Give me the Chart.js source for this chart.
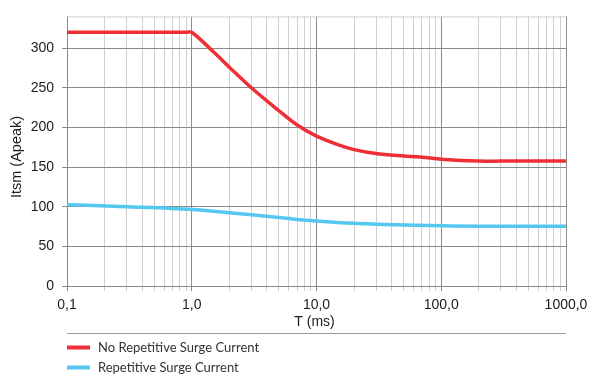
<!DOCTYPE html>
<html>
<head>
<meta charset="utf-8">
<script src="https://cdn.jsdelivr.net/npm/chart.js@4.4.1/dist/chart.umd.min.js"></script>
<style>
  html, body { margin: 0; padding: 0; background: #ffffff; }
  #wrap { width: 595px; height: 378px; position: relative; }
</style>
</head>
<body>
<div id="wrap"><canvas id="c" width="595" height="378"></canvas></div>
<script>
// ---- data ----
const seriesNames = ['No Repetitive Surge Current', 'Repetitive Surge Current'];
const noRepT     = [0.1, 0.9, 1.0, 1.5, 2, 3, 5, 7, 10, 15, 20, 30, 50, 70, 100, 200, 300, 1000];
const noRepItsm  = [320, 320, 320, 295, 276, 250, 221, 203, 189, 178, 172, 167, 164, 162.5, 160, 157.5, 157.5, 157.5];
const repT       = [0.1, 0.3, 1, 2, 3, 5, 7, 10, 20, 30, 50, 100, 200, 500, 1000];
const repItsm    = [102.5, 100, 96.5, 92.5, 90, 86.5, 84, 82, 79, 78, 77, 76, 75.5, 75.5, 75.5];
const xDecades   = [0.1, 1, 10, 100, 1000];
const xTickLabels = ['0,1', '1,0', '10,0', '100,0', '1000,0'];
const yTicks     = [0, 50, 100, 150, 200, 250, 300];
const xTitle = 'T (ms)';
const yTitle = 'Itsm (Apeak)';

const RED = '#ef2f36';
const BLUE = '#55c8f0';
const TXT = '#1c1c1c';
const DARK = '#8a8a8a';
const LIGHT = '#cfcfcf';
const SANS = '"Liberation Sans", Arial, sans-serif';

function pts(xs, ys) { return xs.map((x, i) => ({ x: x, y: ys[i] })); }

function isDecade(v) {
  return xDecades.some(d => Math.abs(d - v) / d < 1e-6);
}

const extras = {
  id: 'extras',
  afterDraw(chart) {
    const ctx = chart.ctx;
    const a = chart.chartArea;
    ctx.save();
    // top border
    ctx.strokeStyle = LIGHT;
    ctx.lineWidth = 1;
    ctx.beginPath();
    ctx.moveTo(a.left, a.top + 0.5);
    ctx.lineTo(a.right, a.top + 0.5);
    ctx.stroke();
    // axis titles
    ctx.fillStyle = TXT;
    ctx.textAlign = 'center';
    ctx.textBaseline = 'middle';
    ctx.font = '14px ' + SANS;
    ctx.fillText(xTitle, (a.left + a.right) / 2 - 2, 322);
    ctx.save();
    ctx.font = '14.5px ' + SANS;
    ctx.translate(17, 157);
    ctx.rotate(-Math.PI / 2);
    ctx.fillText(yTitle, 0, 0);
    ctx.restore();
    // legend separator
    ctx.strokeStyle = '#9a9a9a';
    ctx.lineWidth = 1;
    ctx.beginPath();
    ctx.moveTo(a.left, 333.5);
    ctx.lineTo(a.right, 333.5);
    ctx.stroke();
    // legend items
    const ys = [347.5, 367.5];
    chart.data.datasets.forEach((ds, i) => {
      ctx.strokeStyle = ds.borderColor;
      ctx.lineWidth = 4;
      ctx.beginPath();
      ctx.moveTo(67, ys[i]);
      ctx.lineTo(90, ys[i]);
      ctx.stroke();
      ctx.fillStyle = '#333333';
      ctx.font = '13px Lato, "Liberation Sans", sans-serif';
      ctx.textAlign = 'left';
      ctx.textBaseline = 'middle';
      ctx.fillText(ds.label, 98, ys[i]);
    });
    ctx.restore();
  }
};

new Chart(document.getElementById('c'), {
  type: 'line',
  data: {
    datasets: [
      { label: seriesNames[0], data: pts(noRepT, noRepItsm), borderColor: RED, backgroundColor: RED,
        borderWidth: 3.5, pointRadius: 0, tension: 0.3, fill: false },
      { label: seriesNames[1], data: pts(repT, repItsm), borderColor: BLUE, backgroundColor: BLUE,
        borderWidth: 3.5, pointRadius: 0, cubicInterpolationMode: 'monotone', fill: false }
    ]
  },
  options: {
    responsive: false,
    animation: false,
    devicePixelRatio: 1,
    layout: { padding: { left: 0, top: 8, right: 29, bottom: 0 } },
    plugins: { legend: { display: false }, tooltip: { enabled: false } },
    scales: {
      x: {
        type: 'logarithmic',
        min: 0.1, max: 1000,
        afterBuildTicks(scale) {
          const t = [];
          for (let d = 0; d < xDecades.length; d++) {
            if (d === xDecades.length - 1) { t.push({ value: xDecades[d] }); break; }
            for (let m = 1; m <= 9; m++) t.push({ value: +(xDecades[d] * m).toPrecision(6) });
          }
          scale.ticks = t;
        },
        afterFit(scale) { scale.height = 92; },
        ticks: {
          autoSkip: false, maxRotation: 0, minRotation: 0, padding: 6,
          color: TXT, font: { family: SANS, size: 14 },
          callback(v) {
            const i = xDecades.findIndex(d => Math.abs(d - v) / d < 1e-6);
            return i >= 0 ? xTickLabels[i] : '';
          }
        },
        grid: {
          color: c => (c.tick && isDecade(c.tick.value)) ? DARK : LIGHT,
          tickLength: 5, lineWidth: 1
        },
        border: { color: DARK, width: 1 }
      },
      y: {
        min: 0, max: 340,
        afterBuildTicks(scale) { scale.ticks = yTicks.map(v => ({ value: v })); },
        afterFit(scale) { scale.width = 67; },
        ticks: {
          padding: 8, color: TXT,
          font: { family: SANS, size: 14 }
        },
        grid: { color: DARK, tickLength: 5, lineWidth: 1 },
        border: { color: DARK, width: 1 }
      }
    }
  },
  plugins: [extras]
});
</script>
</body>
</html>
